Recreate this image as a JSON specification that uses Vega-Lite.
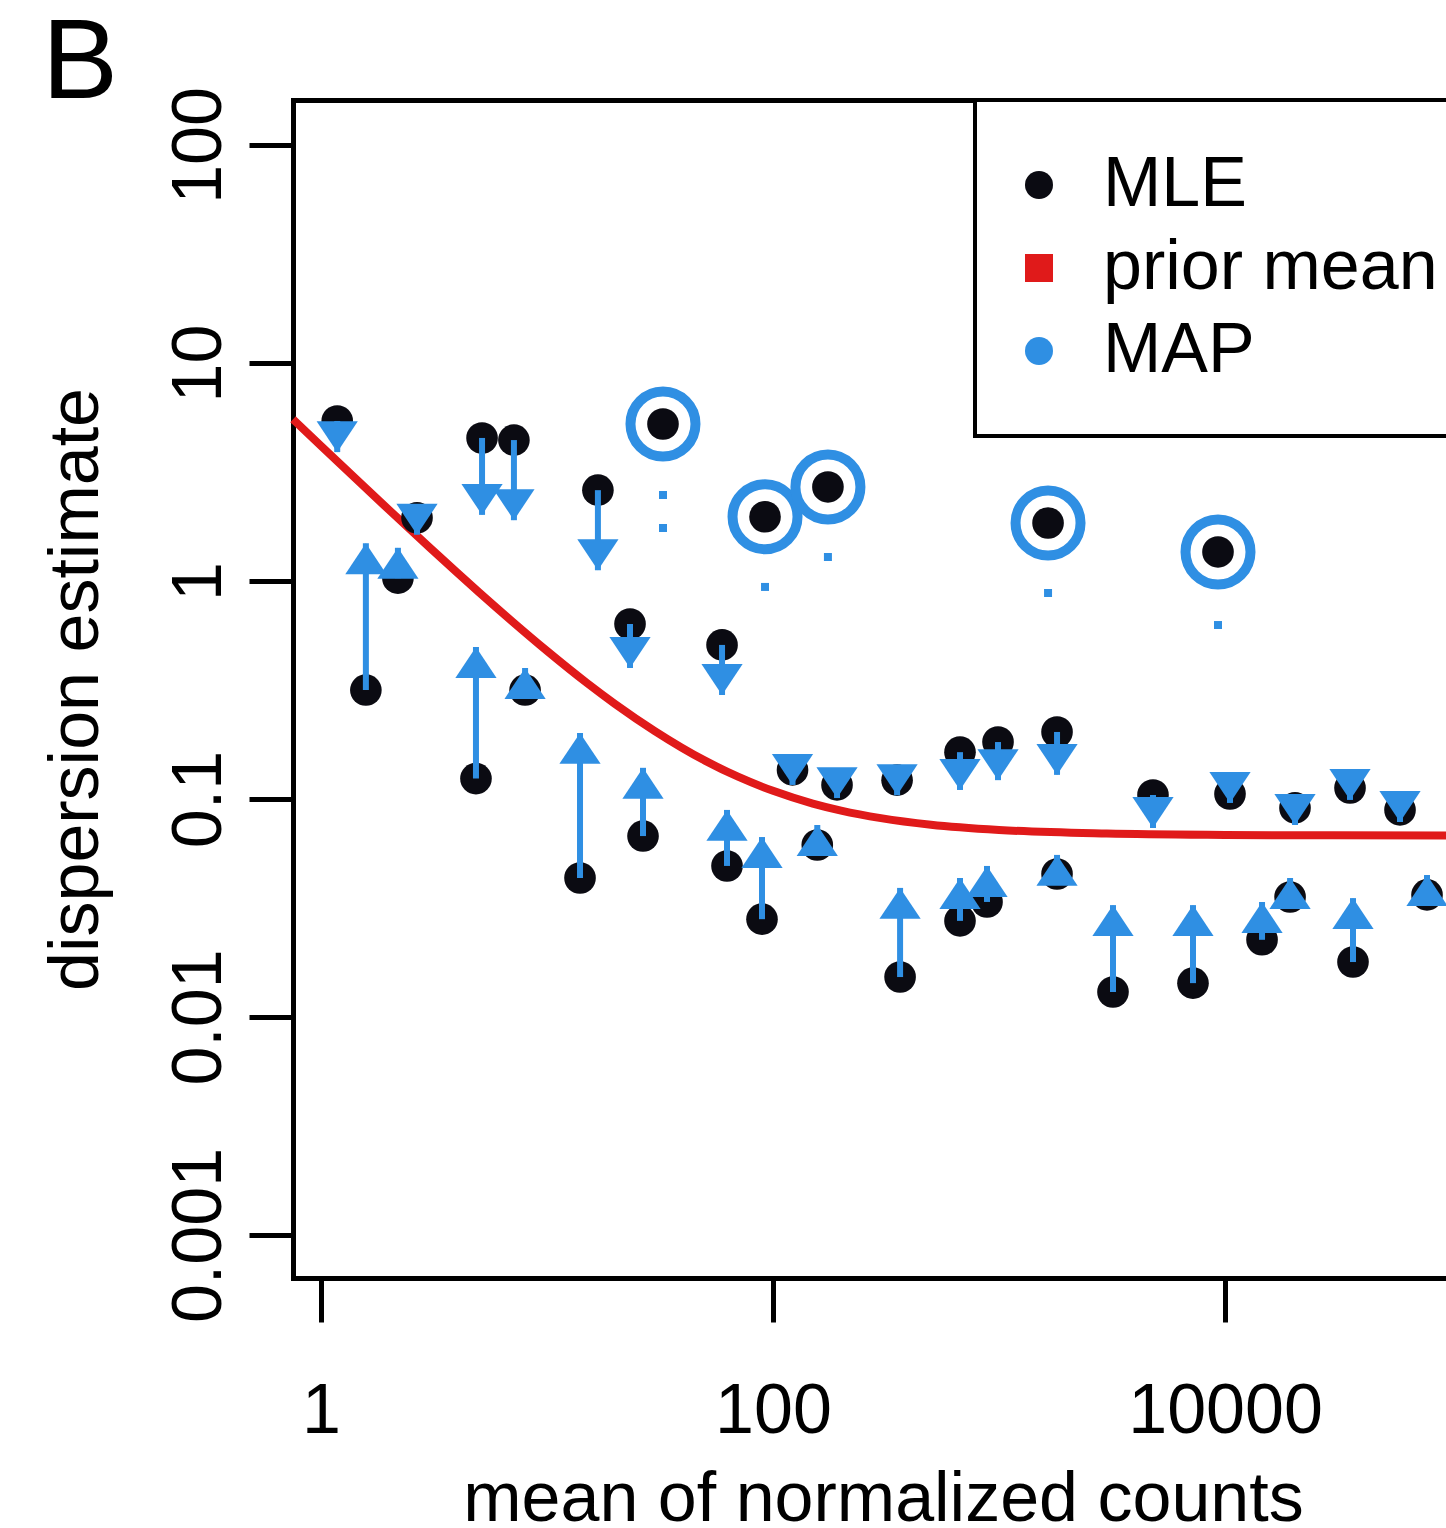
{
  "$schema": "https://vega.github.io/schema/vega-lite/v6.json",
  "autosize": {"type": "none"},
  "padding": {"left": 293, "top": 100, "right": 0, "bottom": 250},
  "width": 1153,
  "height": 1178,
  "background": "white",
  "title": {"text": "B", "orient": "none", "anchor": "start", "frame": "group", "align": "left", "font": "Liberation Sans", "fontSize": 114, "fontWeight": "normal", "color": "black", "baseline": "alphabetic", "dx": -251, "dy": -2, "offset": 0},
  "config": {
    "view": {"stroke": null},
    "axis": {"grid": false, "domainColor": "black", "domainWidth": 5, "domainCap": "square", "tickColor": "black", "tickWidth": 5, "tickSize": 44, "labelFont": "Liberation Sans", "labelFontSize": 70, "labelColor": "black", "labelLimit": 0, "titleFont": "Liberation Sans", "titleFontSize": 70, "titleFontWeight": "normal", "titleColor": "black", "titleLimit": 0, "labelFlush": false, "labelOverlap": false, "labelBound": false},
    "axisY": {"tickCount": 6, "labelAngle": 270, "labelAlign": "center", "labelBaseline": "alphabetic", "labelPadding": 29, "titleAngle": 270, "titleX": -196, "titleY": 589, "titleAlign": "center", "titleBaseline": "alphabetic"}
  },
  "datasets": {
    "genes": [
      {"mean": 1.18, "mle": 5.42, "map": 3.9, "dir": "down"},
      {"mean": 1.58, "mle": 0.316, "map": 1.49, "dir": "up"},
      {"mean": 2.19, "mle": 1.03, "map": 1.42, "dir": "up"},
      {"mean": 2.66, "mle": 1.95, "map": 1.63, "dir": "down"},
      {"mean": 5.16, "mle": 4.53, "map": 2.01, "dir": "down"},
      {"mean": 7.14, "mle": 4.43, "map": 1.9, "dir": "down"},
      {"mean": 4.85, "mle": 0.124, "map": 0.498, "dir": "up"},
      {"mean": 8.0, "mle": 0.316, "map": 0.399, "dir": "up"},
      {"mean": 14.0, "mle": 0.0434, "map": 0.201, "dir": "up"},
      {"mean": 16.8, "mle": 2.61, "map": 1.12, "dir": "down"},
      {"mean": 23.3, "mle": 0.635, "map": 0.399, "dir": "down"},
      {"mean": 26.6, "mle": 0.0676, "map": 0.139, "dir": "up"},
      {"mean": 59.5, "mle": 0.509, "map": 0.3, "dir": "down"},
      {"mean": 62.6, "mle": 0.0493, "map": 0.0891, "dir": "up"},
      {"mean": 89.4, "mle": 0.0281, "map": 0.0669, "dir": "up"},
      {"mean": 157, "mle": 0.0615, "map": 0.076, "dir": "up"},
      {"mean": 122, "mle": 0.136, "map": 0.116, "dir": "down"},
      {"mean": 192, "mle": 0.116, "map": 0.101, "dir": "down"},
      {"mean": 354, "mle": 0.122, "map": 0.104, "dir": "down"},
      {"mean": 672, "mle": 0.164, "map": 0.11, "dir": "down"},
      {"mean": 990, "mle": 0.1825, "map": 0.122, "dir": "down"},
      {"mean": 1806, "mle": 0.203, "map": 0.129, "dir": "down"},
      {"mean": 4800, "mle": 0.1043, "map": 0.0736, "dir": "down"},
      {"mean": 1806, "mle": 0.0453, "map": 0.0554, "dir": "up"},
      {"mean": 672, "mle": 0.0276, "map": 0.0434, "dir": "up"},
      {"mean": 885, "mle": 0.0337, "map": 0.0493, "dir": "up"},
      {"mean": 365, "mle": 0.01525, "map": 0.0391, "dir": "up"},
      {"mean": 3194, "mle": 0.01302, "map": 0.0326, "dir": "up"},
      {"mean": 10520, "mle": 0.1054, "map": 0.0959, "dir": "down"},
      {"mean": 20400, "mle": 0.091, "map": 0.076, "dir": "down"},
      {"mean": 35730, "mle": 0.1123, "map": 0.099, "dir": "down"},
      {"mean": 59460, "mle": 0.0891, "map": 0.0784, "dir": "down"},
      {"mean": 78300, "mle": 0.0363, "map": 0.0448, "dir": "up"},
      {"mean": 19400, "mle": 0.0355, "map": 0.0434, "dir": "up"},
      {"mean": 14580, "mle": 0.0226, "map": 0.0337, "dir": "up"},
      {"mean": 7215, "mle": 0.0143, "map": 0.0326, "dir": "up"},
      {"mean": 36830, "mle": 0.01787, "map": 0.0351, "dir": "up"}
    ],
    "outliers": [
      {"mean": 32.6, "mle": 5.25},
      {"mean": 92.2, "mle": 1.97},
      {"mean": 175, "mle": 2.7},
      {"mean": 1648, "mle": 1.845},
      {"mean": 9310, "mle": 1.359}
    ],
    "tails": [
      {"mean": 32.6, "disp": 2.48},
      {"mean": 32.6, "disp": 1.75},
      {"mean": 92.2, "disp": 0.939},
      {"mean": 175, "disp": 1.288},
      {"mean": 1648, "disp": 0.881},
      {"mean": 9310, "disp": 0.628}
    ],
    "trend": [
      {"mean": 0.752, "disp": 5.52},
      {"mean": 1, "disp": 4.168},
      {"mean": 1.5, "disp": 2.801},
      {"mean": 2, "disp": 2.118},
      {"mean": 3, "disp": 1.435},
      {"mean": 4, "disp": 1.093},
      {"mean": 5, "disp": 0.888},
      {"mean": 7, "disp": 0.654},
      {"mean": 10, "disp": 0.478},
      {"mean": 15, "disp": 0.341},
      {"mean": 20, "disp": 0.273},
      {"mean": 30, "disp": 0.205},
      {"mean": 50, "disp": 0.15},
      {"mean": 70, "disp": 0.1266},
      {"mean": 100, "disp": 0.109},
      {"mean": 150, "disp": 0.0953},
      {"mean": 200, "disp": 0.0885},
      {"mean": 300, "disp": 0.0817},
      {"mean": 500, "disp": 0.0762},
      {"mean": 1000, "disp": 0.0721},
      {"mean": 3000, "disp": 0.0694},
      {"mean": 10000, "disp": 0.0684},
      {"mean": 30000, "disp": 0.0681},
      {"mean": 95000, "disp": 0.068}
    ]
  },
  "resolve": {"axis": {"x": "independent"}},
  "layer": [
    {
      "data": {"name": "trend"},
      "mark": {"type": "line", "strokeWidth": 8, "interpolate": "monotone"},
      "encoding": {
        "x": {"field": "mean", "type": "quantitative", "scale": {"type": "log", "domain": [0.752, 95000], "nice": false},
              "axis": {"orient": "bottom", "values": [1, 100, 10000], "format": "~g", "labelPadding": 55, "labelBaseline": "top", "labelAlign": "center", "title": "mean of normalized counts", "titleX": 590, "titleY": 242, "titleAlign": "center", "titleBaseline": "alphabetic"}},
        "y": {"field": "disp", "type": "quantitative", "scale": {"type": "log", "domain": [0.000635, 160.8], "nice": false},
              "axis": {"values": [0.001, 0.01, 0.1, 1, 10, 100], "format": "~g", "title": "dispersion estimate"}},
        "color": {"datum": "prior mean", "type": "nominal",
                  "scale": {"domain": ["MLE", "prior mean", "MAP"], "range": ["#0b0b12", "#e01a1a", "#2f8fe3"]},
                  "legend": {"orient": "none", "legendX": 682, "legendY": 0, "title": null, "strokeColor": "black", "fillColor": "white", "padding": 50, "labelFont": "Liberation Sans", "labelFontSize": 70, "labelColor": "black", "labelLimit": 0, "labelOffset": 29, "symbolOffset": -21, "symbolType": "circle", "symbolSize": 784, "symbolStrokeWidth": 0, "rowPadding": 13,
                             "encode": {"legend": {"update": {"strokeWidth": {"value": 4}}},
                                        "symbols": {"update": {"shape": {"signal": "datum.value === 'prior mean' ? 'square' : 'circle'"}, "fill": {"scale": "color", "field": "value"}, "stroke": {"value": "transparent"}, "opacity": {"value": 1}}}}}}
      }
    },
    {
      "data": {"name": "genes"},
      "mark": {"type": "point", "filled": true, "shape": "circle", "size": 1000, "opacity": 1},
      "encoding": {
        "x": {"field": "mean", "type": "quantitative", "axis": {"orient": "top", "labels": false, "ticks": false, "domain": true, "title": null}},
        "y": {"field": "mle", "type": "quantitative", "axis": {"values": [0.001, 0.01, 0.1, 1, 10, 100], "format": "~g", "title": "dispersion estimate"}},
        "color": {"datum": "MLE", "type": "nominal"}
      }
    },
    {
      "data": {"name": "outliers"},
      "mark": {"type": "point", "filled": true, "shape": "circle", "size": 1000, "opacity": 1},
      "encoding": {
        "x": {"field": "mean", "type": "quantitative", "axis": null},
        "y": {"field": "mle", "type": "quantitative", "axis": {"values": [0.001, 0.01, 0.1, 1, 10, 100], "format": "~g", "title": "dispersion estimate"}},
        "color": {"datum": "MLE", "type": "nominal"}
      }
    },
    {
      "data": {"name": "genes"},
      "mark": {"type": "rule", "strokeWidth": 6, "color": "#2f8fe3"},
      "encoding": {
        "x": {"field": "mean", "type": "quantitative", "axis": null},
        "y": {"field": "mle", "type": "quantitative", "axis": {"values": [0.001, 0.01, 0.1, 1, 10, 100], "format": "~g", "title": "dispersion estimate"}},
        "y2": {"field": "map"}
      }
    },
    {
      "data": {"name": "genes"},
      "mark": {"type": "point", "filled": true, "size": 1700, "opacity": 1},
      "encoding": {
        "x": {"field": "mean", "type": "quantitative", "axis": null},
        "y": {"field": "map", "type": "quantitative", "axis": {"values": [0.001, 0.01, 0.1, 1, 10, 100], "format": "~g", "title": "dispersion estimate"}},
        "shape": {"field": "dir", "type": "nominal", "scale": {"domain": ["up", "down"], "range": ["M0,0L1,1.5L-1,1.5Z", "M0,0L1,-1.5L-1,-1.5Z"]}, "legend": null},
        "color": {"datum": "MAP", "type": "nominal"}
      }
    },
    {
      "data": {"name": "outliers"},
      "mark": {"type": "point", "filled": false, "shape": "circle", "size": 4225, "strokeWidth": 10, "color": "#2f8fe3", "opacity": 1},
      "encoding": {
        "x": {"field": "mean", "type": "quantitative", "axis": null},
        "y": {"field": "mle", "type": "quantitative", "axis": {"values": [0.001, 0.01, 0.1, 1, 10, 100], "format": "~g", "title": "dispersion estimate"}}
      }
    },
    {
      "data": {"name": "tails"},
      "mark": {"type": "point", "filled": true, "shape": "square", "size": 64, "color": "#2f8fe3", "opacity": 1},
      "encoding": {
        "x": {"field": "mean", "type": "quantitative", "axis": null},
        "y": {"field": "disp", "type": "quantitative", "axis": {"values": [0.001, 0.01, 0.1, 1, 10, 100], "format": "~g", "title": "dispersion estimate"}}
      }
    }
  ]
}
